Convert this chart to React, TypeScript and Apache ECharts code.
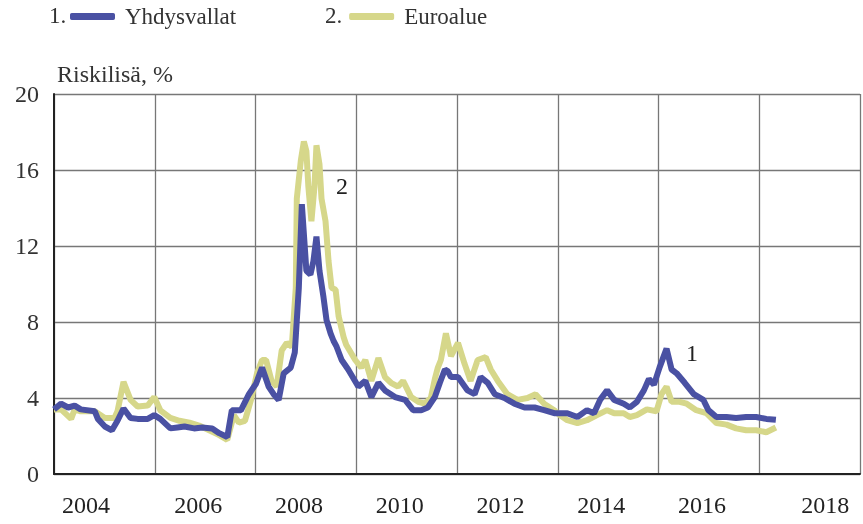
import React, { useEffect, useRef } from "react";
import * as echarts from "echarts";

// US risk premium (Yhdysvallat), decimal years and values (%)
const usYears = [
  2004.0, 2004.14, 2004.28, 2004.41, 2004.53, 2004.81, 2004.87, 2005.01, 2005.15, 2005.26,
  2005.38, 2005.52, 2005.66, 2005.86, 2005.99, 2006.11, 2006.31, 2006.45, 2006.59, 2006.78,
  2006.94, 2007.14, 2007.28, 2007.44, 2007.53, 2007.71, 2007.87, 2008.01, 2008.13, 2008.26,
  2008.36, 2008.46, 2008.56, 2008.7, 2008.78, 2008.86, 2008.92, 2009.01, 2009.09, 2009.15,
  2009.21, 2009.27, 2009.35, 2009.41, 2009.49, 2009.55, 2009.61, 2009.71, 2009.84, 2010.04,
  2010.18, 2010.3, 2010.44, 2010.57, 2010.77, 2010.97, 2011.13, 2011.29, 2011.42, 2011.56,
  2011.66, 2011.76, 2011.82, 2011.88, 2012.02, 2012.21, 2012.35, 2012.47, 2012.61, 2012.75,
  2012.94, 2013.14, 2013.34, 2013.54, 2013.73, 2013.93, 2014.19, 2014.39, 2014.58, 2014.72,
  2014.84, 2014.98, 2015.12, 2015.31, 2015.43, 2015.57, 2015.71, 2015.81, 2015.91, 2016.02,
  2016.16, 2016.26, 2016.36, 2016.52, 2016.7, 2016.89, 2016.99, 2017.15, 2017.35, 2017.54,
  2017.74, 2017.94, 2018.14, 2018.33,
];
const usValues = [
  3.4, 3.7, 3.5, 3.6, 3.4, 3.3, 2.9, 2.5, 2.3, 2.8,
  3.45, 2.95, 2.9, 2.9, 3.1, 2.9, 2.4, 2.45, 2.5, 2.4,
  2.45, 2.4, 2.15, 1.95, 3.35, 3.35, 4.2, 4.75, 5.6, 4.6,
  4.2, 3.9, 5.3, 5.6, 6.4, 9.8, 14.2, 10.7, 10.5, 11.2,
  12.5, 10.7, 9.3, 8.1, 7.4, 7.0, 6.7, 6.0, 5.5, 4.6,
  4.9, 4.05, 4.8, 4.4, 4.05, 3.9, 3.36, 3.36, 3.5, 4.05,
  4.8, 5.5, 5.4, 5.1, 5.1, 4.4, 4.2, 5.1, 4.8, 4.2,
  4.0, 3.7, 3.5, 3.5, 3.36, 3.2, 3.2, 3.0, 3.36, 3.2,
  3.9, 4.4, 3.9, 3.7, 3.5, 3.8, 4.4, 5.0, 4.7, 5.6,
  6.6, 5.5, 5.3, 4.8, 4.2, 3.9, 3.36, 3.0, 3.0, 2.95,
  3.0, 3.0, 2.9, 2.85,
];

// Euro area risk premium (Euroalue)
const euYears = [
  2004.0, 2004.14, 2004.34, 2004.41, 2004.53, 2004.81, 2005.01, 2005.2, 2005.26, 2005.38,
  2005.52, 2005.66, 2005.86, 2005.99, 2006.11, 2006.31, 2006.49, 2006.69, 2006.88, 2007.08,
  2007.28, 2007.44, 2007.57, 2007.67, 2007.79, 2007.91, 2008.03, 2008.13, 2008.21, 2008.32,
  2008.42, 2008.52, 2008.62, 2008.72, 2008.8, 2008.82, 2008.9, 2008.96, 2009.01, 2009.05,
  2009.11, 2009.17, 2009.21, 2009.27, 2009.31, 2009.39, 2009.45, 2009.51, 2009.59, 2009.65,
  2009.75, 2009.8, 2009.98, 2010.1, 2010.18, 2010.3, 2010.44, 2010.57, 2010.69, 2010.83,
  2010.93, 2011.09, 2011.23, 2011.36, 2011.48, 2011.56, 2011.62, 2011.68, 2011.78, 2011.88,
  2012.02, 2012.15, 2012.27, 2012.41, 2012.57, 2012.67, 2012.81, 2013.0, 2013.2, 2013.4,
  2013.56, 2013.73, 2013.93, 2013.99, 2014.19, 2014.39, 2014.58, 2014.78, 2014.98, 2015.12,
  2015.31, 2015.43, 2015.57, 2015.77, 2015.96, 2016.06, 2016.16, 2016.26, 2016.42, 2016.56,
  2016.75, 2016.95, 2017.15, 2017.35, 2017.54, 2017.74, 2017.94, 2018.14, 2018.33,
];
const euValues = [
  3.4, 3.4, 2.9, 3.4, 3.3, 3.3, 2.95, 2.95, 3.3, 4.85,
  3.9, 3.55, 3.6, 4.05, 3.35, 2.95, 2.8, 2.7, 2.55, 2.3,
  2.05, 1.8, 3.1, 2.7, 2.8, 3.9, 5.3, 6.0, 6.0, 4.9,
  4.6, 6.5, 6.9, 6.7, 9.8, 14.5, 16.5, 17.5, 17.0, 15.1,
  13.3, 15.1, 17.3, 16.3, 14.5, 13.3, 11.2, 9.8, 9.7, 8.3,
  7.2, 6.8, 6.0, 5.6, 6.0, 4.9, 6.1, 5.1, 4.8, 4.6,
  4.9, 4.05, 3.8, 3.7, 4.0, 5.0, 5.6, 6.0, 7.4, 6.2,
  6.9, 5.8, 4.9, 6.0, 6.15, 5.5, 4.9, 4.2, 3.9, 4.0,
  4.2, 3.7, 3.36, 3.2, 2.83, 2.68, 2.83, 3.1, 3.36, 3.2,
  3.2, 3.0, 3.1, 3.4, 3.3, 4.2, 4.6, 3.8, 3.8, 3.7,
  3.36, 3.2, 2.68, 2.6, 2.4, 2.3, 2.3, 2.2, 2.45,
];

const seriesNames = ["Yhdysvallat", "Euroalue"];
const seriesNumbers = ["1.", "2."];
const yAxisTitle = "Riskilisä, %";

const FONT = "'Liberation Serif', 'DejaVu Serif', serif";
const TEXT = "#333";
const BLUE = "#4a51a3";
const YELLOW = "#d6d78a";

export default function App() {
  const ref = useRef<HTMLDivElement>(null);

  useEffect(() => {
    const chart = echarts.init(ref.current as HTMLDivElement, null, { renderer: "svg" });
    const labelBase = { fontSize: 24, fontFamily: FONT, color: "#222" };
    chart.setOption({
      animation: false,
      grid: { left: 54, right: 0, top: 94, bottom: 50, containLabel: false },
      legend: {
        data: seriesNames,
        left: 70,
        top: 5,
        padding: 0,
        icon: "roundRect",
        itemWidth: 45,
        itemHeight: 7,
        itemGap: 113,
        textStyle: { fontSize: 23, fontFamily: FONT, color: TEXT, padding: [0, 0, 0, 5] },
      },
      graphic: [
        { type: "text", left: 49, top: 4, style: { text: seriesNumbers[0], fontSize: 23, fontFamily: FONT, fill: TEXT } },
        { type: "text", left: 325, top: 4, style: { text: seriesNumbers[1], fontSize: 23, fontFamily: FONT, fill: TEXT } },
        { type: "text", left: 686, top: 341, style: { text: "1", fontSize: 24, fontFamily: FONT, fill: "#222" } },
        { type: "text", left: 336, top: 174, style: { text: "2", fontSize: 24, fontFamily: FONT, fill: "#222" } },
      ],
      xAxis: [
        {
          type: "value",
          min: 2004,
          max: 2020,
          interval: 2,
          axisLine: { show: true, lineStyle: { color: "#222", width: 2 } },
          axisTick: { show: false },
          axisLabel: { show: false },
          splitLine: { show: true, lineStyle: { color: "#777", width: 1.3 } },
        },
        {
          type: "value",
          min: 2004,
          max: 2020,
          interval: 1,
          position: "bottom",
          axisLine: { show: false },
          axisTick: { show: false },
          splitLine: { show: false },
          axisLabel: {
            margin: 19,
            ...labelBase,
            formatter: (v: number) => {
              const y = Math.round(v);
              if (y % 2 === 0) return "";
              const lab = String(y - 1);
              if (y === 2005) return `{first|${lab}}`;
              if (y === 2019) return `{last|${lab}}`;
              return `{mid|${lab}}`;
            },
            rich: {
              first: { ...labelBase, padding: [0, 37, 0, 0] },
              mid: { ...labelBase, padding: [0, 14, 0, 0] },
              last: { ...labelBase, padding: [0, 0, 0, 31] },
            },
          },
        },
      ],
      yAxis: {
        type: "value",
        min: 0,
        max: 20,
        interval: 4,
        name: yAxisTitle,
        nameLocation: "end",
        nameGap: 8,
        nameTextStyle: { align: "left", fontSize: 24, fontFamily: FONT, color: TEXT, padding: [0, 0, 0, 3] },
        axisLine: { show: true, lineStyle: { color: "#222", width: 2 } },
        axisTick: { show: false },
        axisLabel: { fontSize: 24, fontFamily: FONT, color: TEXT, margin: 15 },
        splitLine: { show: true, lineStyle: { color: "#777", width: 1.3 } },
      },
      series: [
        {
          name: seriesNames[1],
          type: "line",
          xAxisIndex: 0,
          data: euYears.map((y, i) => [y, euValues[i]]),
          showSymbol: false,
          lineStyle: { color: YELLOW, width: 6 },
          itemStyle: { color: YELLOW },
          z: 2,
        },
        {
          name: seriesNames[0],
          type: "line",
          xAxisIndex: 0,
          data: usYears.map((y, i) => [y, usValues[i]]),
          showSymbol: false,
          lineStyle: { color: BLUE, width: 6 },
          itemStyle: { color: BLUE },
          z: 3,
        },
      ],
    });
    return () => chart.dispose();
  }, []);

  return <div ref={ref} style={{ position: "fixed", left: 0, top: 0, width: 863, height: 524 }} />;
}
